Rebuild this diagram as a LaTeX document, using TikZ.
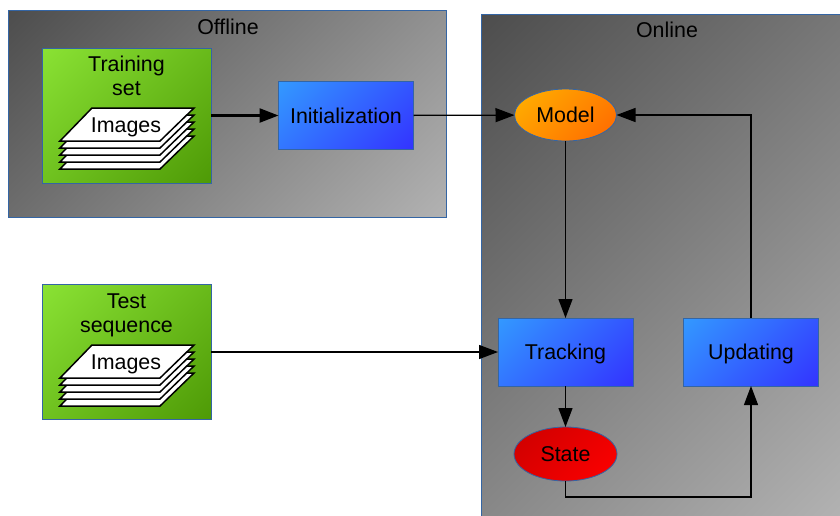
\documentclass[tikz,border=0pt]{standalone}
\usepackage{fontspec}
\setmainfont{Liberation Sans}
\usetikzlibrary{arrows.meta,shapes.geometric}

\definecolor{edgeblue}{HTML}{3465A4}
\colorlet{gradfrom}{white}
\colorlet{gradto}{black}
\pgfdeclarehorizontalshading[gradfrom,gradto]{diagfade}{100bp}{%
    color(0bp)=(gradfrom); color(14.6bp)=(gradfrom);
    color(85.4bp)=(gradto); color(100bp)=(gradto)}

\begin{document}
\begin{tikzpicture}[%
    >={Triangle[length=19pt,width=14pt]},
    x=1pt,
    y=-1pt,
    every node/.style={inner sep=0pt, outer sep=0pt, font={\fontsize{21.4}{24}\selectfont}, text=black, text height=15pt, text depth=0pt},
    grad/.style 2 args={draw=edgeblue, line width=0.8pt, shade, shading=diagfade, shading angle=-45,
        /utils/exec={\definecolor{gradfrom}{HTML}{#1}\definecolor{gradto}{HTML}{#2}}},
    zone/.style={grad={4D4D4D}{B2B2B2}, rectangle},
    setbox/.style={grad={8AE234}{4E9A06}, rectangle, minimum width=169pt, minimum height=135pt},
    stepbox/.style={grad={3399FF}{3333FF}, rectangle, minimum width=135pt, minimum height=68pt},
    twolines/.style={align=center, text height=, text depth=},
    flow/.style={->, line width=1.3pt, black},
    sheet/.style={draw=black, fill=white, line width=1.5pt, line join=miter}
    ]

    \useasboundingbox (0,0) rectangle (840,515);

    % two zones
    \node at (227,113.5) [zone, minimum width=438pt, minimum height=207pt] (offline) {};
    \node at (661.5,265.5) [zone, minimum width=361pt, minimum height=503pt] (online) {};
    \node at (228,26.5) (offlinetitle) {Offline};
    \node at (667,30) (onlinetitle) {Online};

    \node at (126.5,115.5) [setbox] (training) {};
    \node at (126.5,352) [setbox] (test) {};
    \node at (126.5,76) [twolines] (trainingtext) {Training\\set};
    \node at (126.5,315.5) [twolines] (testtext) {Test\\sequence};

    % image stacks
    \foreach \sy/\stackname in {108/trainimages, 345/testimages} {
        \foreach \dy in {28,21,14,7,0} {
            \draw [sheet] (92,\sy+\dy) -- (194,\sy+\dy) -- (160,\sy+\dy+33) -- (60,\sy+\dy+33) -- cycle;
        }
        \node at (126,\sy+17) (\stackname) {Images};
    }

    \node at (346,115.5) [stepbox] (init) {Initialization};
    \node at (565.5,352) [stepbox] (tracking) {Tracking};
    \node at (751,352) [stepbox] (updating) {Updating};
    \node at (565.5,115) [ellipse, grad={FFB300}{FF6600}, minimum width=102pt, minimum height=52pt] (model) {Model};
    \node at (565.5,454) [ellipse, grad={CC0000}{FF0000}, minimum width=103pt, minimum height=54pt] (state) {State};

    \coordinate (turn) at (751,497);

    \draw [flow, line width=2.4pt] (training) -- (init);
    \draw [flow] (init) -- (model);
    \draw [flow] (test) -- (tracking);
    \draw [flow] (model) -- (tracking);
    \draw [flow] (tracking) -- (state);
    \draw [flow] (state.south) |- (turn) -- (updating.south);
    \draw [flow] (updating.north) |- (model.east);
\end{tikzpicture}
\end{document}
